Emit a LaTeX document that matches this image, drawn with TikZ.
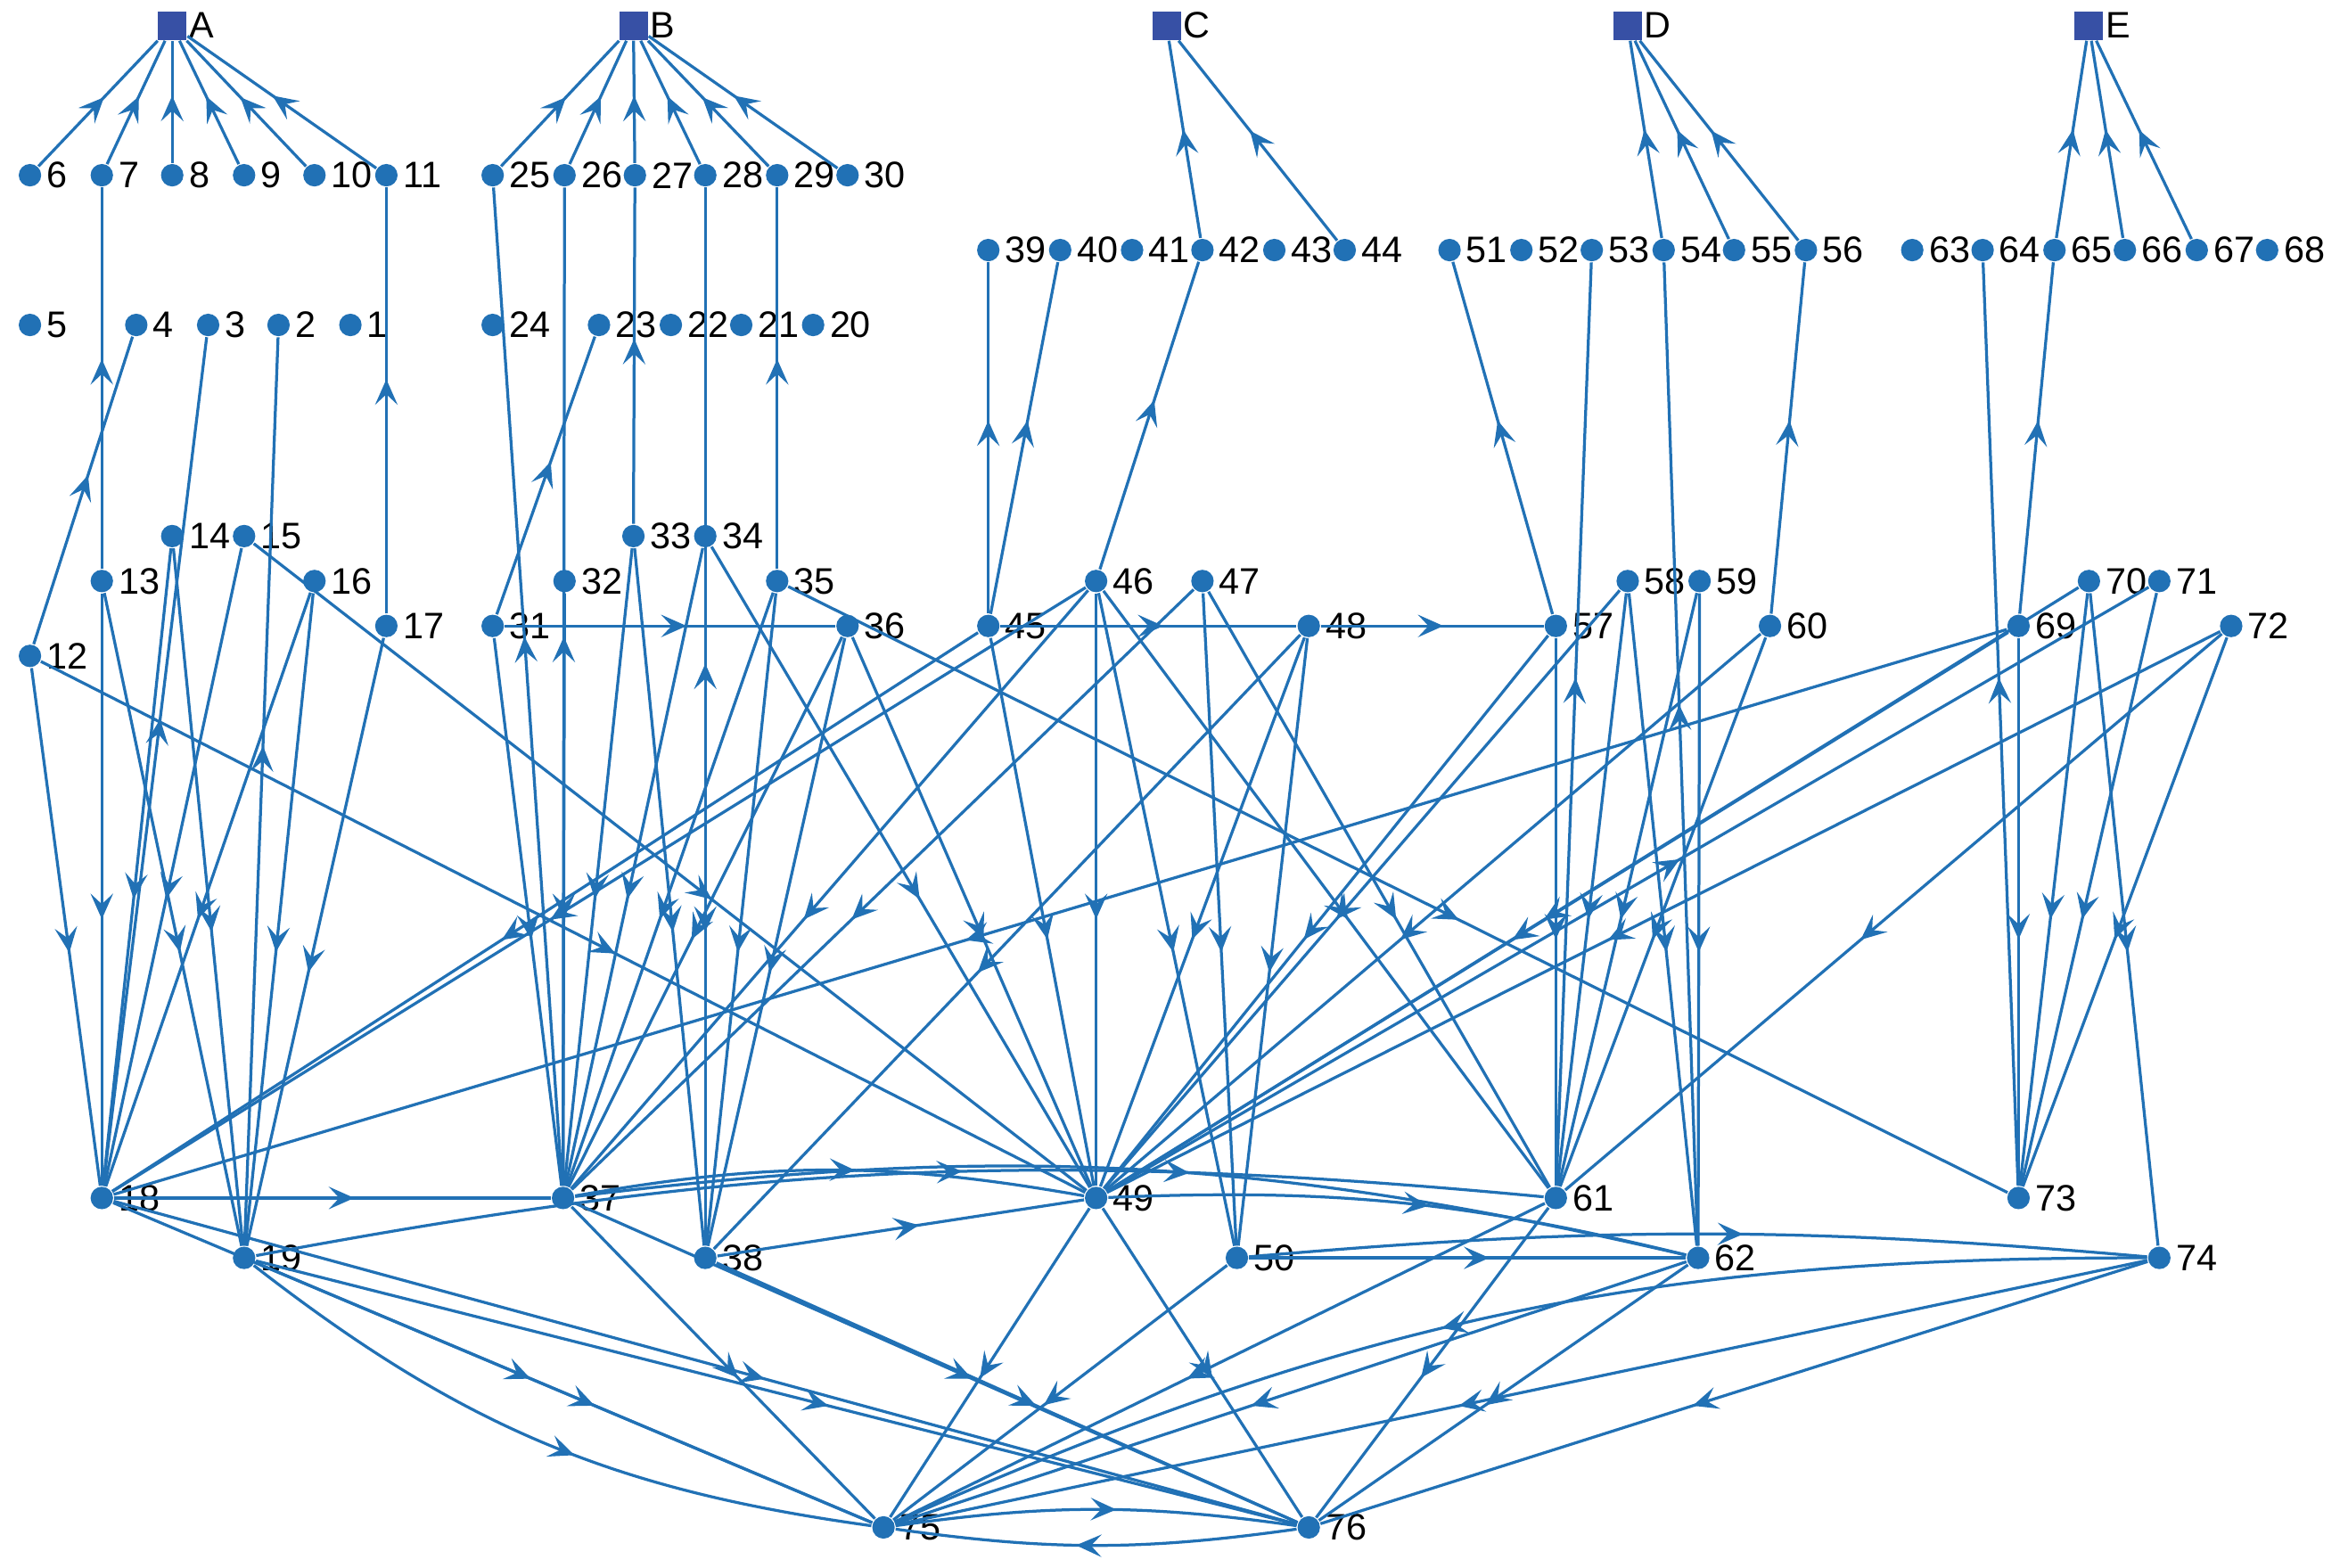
\documentclass[tikz,border=0pt]{standalone}
\usepackage{fontspec}
\setmainfont{Liberation Sans}
\usetikzlibrary{arrows.meta,decorations.markings}
\definecolor{ec}{RGB}{33,113,181}
\definecolor{sq}{RGB}{55,80,165}
\begin{document}
\begin{tikzpicture}[x=0.01cm,y=-0.01cm,
  v/.style={circle,fill=ec,inner sep=0pt,minimum size=0.15cm},
  s/.style={rectangle,fill=sq,inner sep=0pt,minimum size=0.19cm},
  lab/.style={font=\fontsize{7}{8}\selectfont,inner sep=1pt,anchor=west},
  e/.style={draw=ec,line width=0.55pt,postaction=decorate,decoration={markings,mark=at position 0.55 with {\arrow{Stealth[length=0.17cm,width=0.15cm,inset=0.07cm]}}}}]
\useasboundingbox (0,0) rectangle (1568,1047);
\foreach \n/\x/\y in {A/115/17,B/423/17,C/779/17,D/1087/17,E/1395/17}{
  \node[s] (\n) at (\x,\y) {};
  \node[lab] at (\x+7,\y) {\n};}
\foreach \n/\x/\y in {6/20/117,7/68/117,8/115/117,9/163/117,10/210/117,11/258/117,
 25/329/117,26/377/117,27/424/117,28/471/117,29/519/117,30/566/117,
 39/660/167,40/708/167,41/756/167,42/803/167,43/851/167,44/898/167,
 51/968/167,52/1016/167,53/1063/167,54/1111/167,55/1158/167,56/1206/167,
 63/1277/167,64/1324/167,65/1372/167,66/1419/167,67/1467/167,68/1514/167,
 5/20/217,4/91/217,3/139/217,2/186/217,1/234/217,
 24/329/217,23/400/217,22/448/217,21/495/217,20/543/217,
 14/115/358,15/163/358,33/423/358,34/471/358,
 13/68/388,16/210/388,32/377/388,35/519/388,46/732/388,47/803/388,58/1087/388,59/1135/388,70/1395/388,71/1442/388,
 17/258/418,31/329/418,36/566/418,45/660/418,48/874/418,57/1039/418,60/1182/418,69/1348/418,72/1490/418,
 12/20/438,
 18/68/800,37/376/800,49/732/800,61/1039/800,73/1348/800,
 19/163/840,38/471/840,50/826/840,62/1134/840,74/1442/840,
 75/590/1020,76/874/1020}{
  \node[v] (n\n) at (\x,\y) {};
  \node[lab] at (\x+7,\y) {\n};}
% top edges
\foreach \a in {6,7,8,9,10,11}{\path[e] (n\a) -- (A);}
\foreach \a in {25,26,27,28,29,30}{\path[e] (n\a) -- (B);}
\path[e] (n44) -- (C); \path[e] (n42) -- (C);
\foreach \a in {54,55,56}{\path[e] (n\a) -- (D);}
\foreach \a in {65,66,67}{\path[e] (n\a) -- (E);}
\foreach \a/\b in {13/7,17/11,12/4,37/26,33/27,38/28,35/29,31/23,46/42,
 45/39,45/40,57/51,61/53,62/54,60/56,73/64,69/65,49/71,18/3,19/2,37/25}{\path[e] (n\a) -- (n\b);}
% middle edges
\foreach \a/\b in {13/18,13/19,14/18,14/19,15/18,15/49,16/18,16/19,17/19,12/18,12/49,
 31/36,45/48,48/57,32/37,33/37,33/38,34/37,34/38,34/49,35/37,35/38,36/37,36/38,31/37,
 45/18,46/18,46/49,46/50,46/61,47/37,47/50,48/49,48/50,47/61,45/49,46/37,
 57/61,57/49,58/49,58/61,58/62,59/61,59/62,60/61,60/49,69/49,69/73,70/73,70/74,71/73,72/73,72/49,69/18,
 36/49,35/73,70/49,72/61,48/38}{\path[e] (n\a) -- (n\b);}
% bottom edges
\foreach \a/\b in {18/75,18/76,19/75,19/76,37/75,37/76,38/76,49/75,49/76,50/75,61/75,61/76,62/75,62/76,74/75,74/76,50/62,38/49,18/37}{\path[e] (n\a) -- (n\b);}
\path[e] (n19) to[bend left=8] (n61);
\path[e] (n37) to[bend left=10] (n49);
\path[e] (n49) to[bend left=8] (n62);
\path[e] (n50) to[bend left=5] (n74);
\path[e] (n75) to[bend left=8] (n76);
\path[e] (n76) to[bend left=8] (n75);
\path[e] (n19) to[bend right=15] (n75);
\path[e] (n74) to[bend right=12] (n75);
\path[e] (n37) to[bend left=10] (n62);
\end{tikzpicture}
\end{document}
